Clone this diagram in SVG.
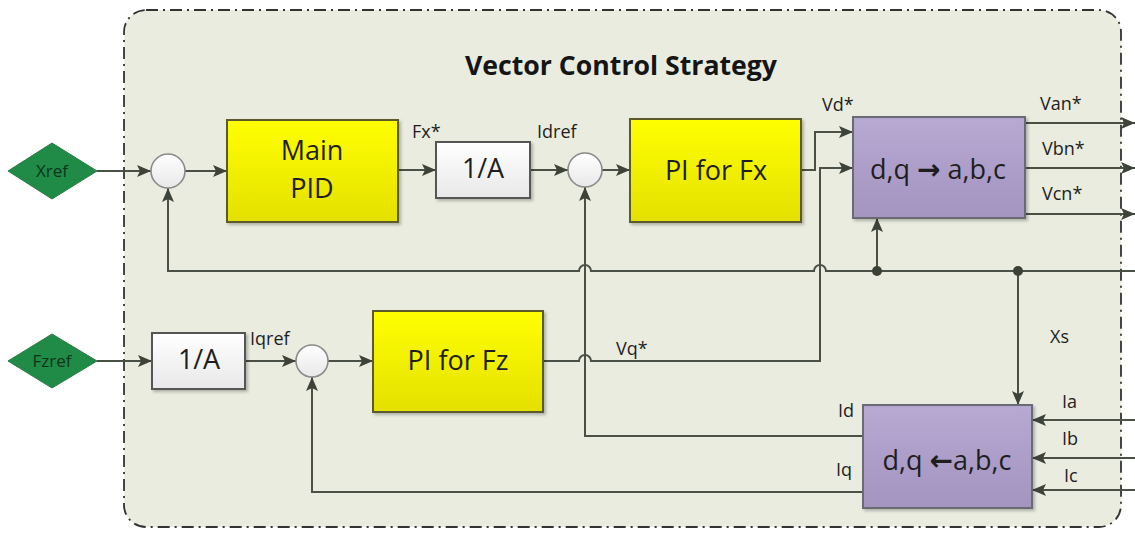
<svg xmlns="http://www.w3.org/2000/svg" width="1135" height="533" viewBox="0 0 1135 533">
<style>
.ln{fill:none;stroke:#4b5046;stroke-width:2}
.lbl{font-family:"Open Sans","Liberation Sans",sans-serif;font-size:18px;fill:#1e1e1e}
.big{font-family:"Open Sans","Liberation Sans","DejaVu Sans",sans-serif;font-size:27px;fill:#1e1e1e;text-anchor:middle}
.arw{font-family:"DejaVu Sans",sans-serif;font-weight:bold;font-size:28px}
.pur{fill:url(#gPur);stroke:#6a6a72;stroke-width:2}
.yel{fill:url(#gYel);stroke:#5c5a2c;stroke-width:2}
.wht{fill:url(#gWht);stroke:#555;stroke-width:2}
.sum{fill:url(#gWht);stroke:#8a8a8a;stroke-width:1.6}
.dia{fill:#1f8b47;stroke:#2c7a44;stroke-width:1}
.dtx{font-family:"Open Sans","Liberation Sans",sans-serif;font-size:17px;fill:#0c3519;text-anchor:middle}
.dot{fill:#3c4138}
</style>
<defs>
<linearGradient id="gYel" x1="0" y1="0" x2="0" y2="1"><stop offset="0" stop-color="#ffff00"/><stop offset="1" stop-color="#e4e000"/></linearGradient>
<linearGradient id="gPur" x1="0" y1="0" x2="0" y2="1"><stop offset="0" stop-color="#b6a9d2"/><stop offset="1" stop-color="#a394c0"/></linearGradient>
<linearGradient id="gWht" x1="0" y1="0" x2="0" y2="1"><stop offset="0" stop-color="#ffffff"/><stop offset="1" stop-color="#e8e8e8"/></linearGradient>
<filter id="sh" x="-10%" y="-10%" width="130%" height="130%"><feDropShadow dx="2" dy="2" stdDeviation="1.5" flood-color="#000" flood-opacity="0.25"/></filter>
<marker id="ar" viewBox="0 0 14 12" refX="14" refY="6" markerWidth="14" markerHeight="12" markerUnits="userSpaceOnUse" orient="auto"><path d="M0,0 L14,6 L0,12 L3,6 Z" fill="#3e433a"/></marker>
</defs>
<rect x="0" y="0" width="1135" height="533" fill="#ffffff"/>
<g id="frame">
<rect x="124" y="10" width="997" height="517" rx="22" ry="22" fill="#e9ecdf" stroke="#333" stroke-width="1.8" stroke-dasharray="12 5 2 5"/>
<text x="465" y="75" font-family="'Open Sans','Liberation Sans',sans-serif" font-weight="bold" font-size="27" fill="#151515" textLength="312" lengthAdjust="spacingAndGlyphs">Vector Control Strategy</text>
</g>
<g id="connectors">
<path class="ln" d="M97 171 L151 171" marker-end="url(#ar)"/>
<path class="ln" d="M185 171 L227 171" marker-end="url(#ar)"/>
<path class="ln" d="M398 170 L436 170" marker-end="url(#ar)"/>
<path class="ln" d="M530 170 L568 170" marker-end="url(#ar)"/>
<path class="ln" d="M602 170 L630 170" marker-end="url(#ar)"/>
<path class="ln" d="M801 170 L815 170 L815 132 L853 132" marker-end="url(#ar)"/>
<path class="ln" d="M543 361 L579 361 A6 6 0 0 1 591 361 L820 361 L820 168 L853 168" marker-end="url(#ar)"/>
<path class="ln" d="M1135 271 L826 271 A6 6 0 0 0 814 271 L591 271 A6 6 0 0 0 579 271 L168 271 L168 188" marker-end="url(#ar)"/>
<path class="ln" d="M877 271 L877 218" marker-end="url(#ar)"/>
<path class="ln" d="M1018 271 L1018 405" marker-end="url(#ar)"/>
<path class="ln" d="M863 436 L585 436 L585 187" marker-end="url(#ar)"/>
<path class="ln" d="M863 492 L312 492 L312 377" marker-end="url(#ar)"/>
<path class="ln" d="M97 361 L152 361" marker-end="url(#ar)"/>
<path class="ln" d="M245 361 L296 361" marker-end="url(#ar)"/>
<path class="ln" d="M328 361 L373 361" marker-end="url(#ar)"/>
<path class="ln" d="M1025 123 L1135 123" marker-end="url(#ar)"/>
<path class="ln" d="M1025 168 L1135 168" marker-end="url(#ar)"/>
<path class="ln" d="M1025 214 L1135 214" marker-end="url(#ar)"/>
<path class="ln" d="M1135 420 L1032 420" marker-end="url(#ar)"/>
<path class="ln" d="M1135 458 L1032 458" marker-end="url(#ar)"/>
<path class="ln" d="M1135 490 L1032 490" marker-end="url(#ar)"/>
<circle class="dot" cx="877" cy="271" r="5"/>
<circle class="dot" cx="1018" cy="271" r="5"/>
<text class="lbl" x="412" y="138">Fx*</text>
<text class="lbl" x="537" y="138">Idref</text>
<text class="lbl" x="822" y="111">Vd*</text>
<text class="lbl" x="1040" y="110">Van*</text>
<text class="lbl" x="1042" y="155">Vbn*</text>
<text class="lbl" x="1042" y="200">Vcn*</text>
<text class="lbl" x="250" y="345">Iqref</text>
<text class="lbl" x="616" y="355">Vq*</text>
<text class="lbl" x="1050" y="343">Xs</text>
<text class="lbl" x="838" y="417">Id</text>
<text class="lbl" x="836" y="476">Iq</text>
<text class="lbl" x="1062" y="408">Ia</text>
<text class="lbl" x="1062" y="445">Ib</text>
<text class="lbl" x="1064" y="482">Ic</text>
</g>
<g id="xref"><polygon class="dia" points="8,171 52,143 97,171 52,199"/><text class="dtx" x="52" y="177">Xref</text></g>
<g id="fzref"><polygon class="dia" points="8,361 52,334 97,361 52,388"/><text class="dtx" x="52" y="367">Fzref</text></g>
<g id="sum1"><circle class="sum" cx="168" cy="171" r="17"/></g>
<g id="sum2"><circle class="sum" cx="585" cy="170" r="17"/></g>
<g id="sum3"><circle class="sum" cx="312" cy="361" r="16"/></g>
<g id="mainpid"><rect class="yel" x="227" y="120" width="171" height="102" filter="url(#sh)"/><text class="big" x="312" y="160">Main</text><text class="big" x="312" y="198">PID</text></g>
<g id="inva1"><rect class="wht" x="436" y="142" width="94" height="56" filter="url(#sh)"/><text class="big" x="483" y="178" font-size="22" textLength="42">1/A</text></g>
<g id="pifx"><rect class="yel" x="630" y="119" width="171" height="103" filter="url(#sh)"/><text class="big" x="716" y="180">PI for Fx</text></g>
<g id="dq2abc"><rect class="pur" x="853" y="117" width="172" height="101" filter="url(#sh)"/><text class="big" x="938" y="179" fill="#22203a">d,q <tspan class="arw">→</tspan> a,b,c</text></g>
<g id="inva2"><rect class="wht" x="152" y="333" width="93" height="56" filter="url(#sh)"/><text class="big" x="199" y="369" font-size="22" textLength="42">1/A</text></g>
<g id="pifz"><rect class="yel" x="373" y="311" width="170" height="101" filter="url(#sh)"/><text class="big" x="458" y="370">PI for Fz</text></g>
<g id="abc2dq"><rect class="pur" x="863" y="405" width="169" height="103" filter="url(#sh)"/><text class="big" x="947" y="470" fill="#22203a">d,q <tspan class="arw">←</tspan>a,b,c</text></g>
</svg>
